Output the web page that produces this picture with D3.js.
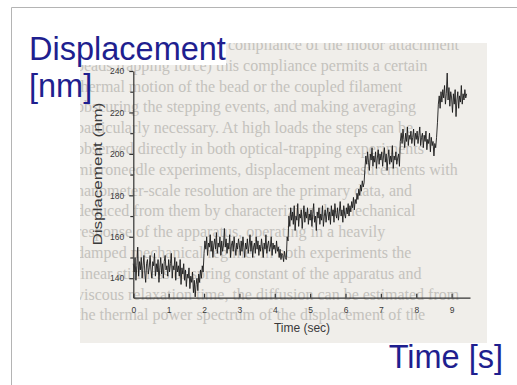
<!DOCTYPE html>
<html lang="en">
<head>
  <meta charset="UTF-8">
  <title>Displacement vs Time</title>
  <style>
    body {
      margin: 0;
      background: #fff;
    }
    .frame {
      stroke: #b4b4b4;
      stroke-width: 1px;
    }
    .page-text {
      font-family: "Liberation Serif", "DejaVu Serif", serif;
      font-size: 16px;
      fill: #c4c2bd;
    }
    .axis path, .axis line {
      stroke: #333;
      stroke-width: 1.2px;
    }
    .axis text {
      font-family: "Liberation Sans", Arial, sans-serif;
      font-size: 8.5px;
      fill: #3a3a3a;
    }
    .axis-title {
      font-family: "Liberation Sans", Arial, sans-serif;
      font-size: 12px;
      fill: #3a3a3a;
    }
    .trace {
      fill: none;
      stroke: #1a1a1a;
      stroke-width: 0.9px;
      stroke-linejoin: miter;
    }
    .slide-label {
      font-family: "Liberation Sans", Arial, sans-serif;
      font-size: 32.5px;
      fill: #1f1f8f;
    }
  </style>
</head>
<body>
  <svg width="517" height="385"></svg>

  <script src="https://d3js.org/d3.v7.min.js"></script>
  <script>
    // sample spacing of the recorded trace (sec)
    var dt = 0.025;

    // displacement readings (nm), one per dt starting at t = 0, 40 per second
    var displacement = [
      147, 143, 150, 139, 146, 155, 141, 148, 144, 150, 140, 146, 151, 143, 138, 147, 149, 142, 145, 151,
      144, 140, 148, 146, 152, 141, 147, 143, 149, 138, 145, 150, 142, 147, 140, 148, 151, 144, 146, 141,
      149, 143, 147, 152, 140, 146, 144, 150, 139, 148, 143, 146, 141, 149, 137, 145, 142, 147, 139, 144,
      136, 142, 140, 145, 135, 141, 138, 143, 133, 139, 131, 137, 140, 134, 142, 138, 144, 140, 146, 143,
      152, 158, 154, 160, 151, 157, 155, 161, 153, 158, 150, 156, 159, 154, 162, 152, 157, 155, 160, 151,
      158, 153, 156, 164, 155, 159, 152, 157, 154, 161, 150, 156, 158, 153, 160, 155, 151, 157, 154, 159,
      156, 151, 158, 153, 160, 155, 150, 157, 154, 159, 152, 156, 161, 153, 158, 150, 155, 157, 152, 160,
      154, 158, 151, 156, 153, 159, 155, 150, 157, 154, 161, 152, 156, 158, 153, 155, 160, 151, 157, 154,
      156, 152, 158, 153, 155, 150, 154, 149, 152, 151, 148, 153, 150, 149, 160, 158, 170, 165, 174, 168,
      172, 166, 175, 163, 170, 168, 176, 165, 171, 169, 173, 164, 170, 175, 167, 172, 169, 174, 166, 171,
      168, 173, 165, 171, 176, 167, 170, 163, 172, 169, 174, 166, 171, 168, 175, 165, 170, 173, 167, 171,
      174, 168, 172, 166, 175, 170, 173, 167, 176, 171, 169, 174, 168, 172, 177, 170, 173, 167, 175, 171,
      169, 174, 171, 176, 170, 175, 172, 177, 174, 179, 173, 178, 176, 181, 178, 183, 180, 185, 182, 187,
      184, 186, 193, 199, 195, 201, 196, 192, 200, 197, 203, 194, 199, 196, 201, 193, 198, 202, 195, 200,
      197, 201, 194, 199, 203, 196, 200, 192, 198, 202, 195, 199, 196, 204, 193, 199, 197, 201, 195, 198,
      200, 194, 206, 210, 205, 212, 207, 203, 210, 206, 213, 204, 209, 207, 211, 205, 208, 212, 204, 210,
      207, 211, 205, 209, 213, 204, 208, 210, 203, 209, 206, 211, 202, 207, 205, 210, 201, 208, 204, 206,
      199, 205, 203, 208, 215, 224, 228, 222, 230, 225, 231, 227, 233, 224, 229, 239, 226, 232, 223, 230,
      227, 220, 229, 224, 231, 218, 226, 230, 222, 228, 225, 233, 224, 229, 226, 231, 227, 229
    ];

    var xTicks = [0, 1, 2, 3, 4, 5, 6, 7, 8, 9];
    var yMajorTicks = [140, 160, 180, 200, 220, 240];
    var yMinorTicks = [150, 170, 190, 210, 230];

    // book page showing behind the scanned figure
    var pageLines = [
      "compliance of the motor attachment",
      "beads trapping force) this compliance permits a certain",
      "thermal motion of the bead or the coupled filament",
      "obscuring the stepping events, and making averaging",
      "particularly necessary. At high loads the steps can be",
      "observed directly in both optical-trapping experiments",
      "microneedle experiments, displacement measurements with",
      "nanometer-scale resolution are the primary data, and",
      "deduced from them by characterizing the mechanical",
      "response of the apparatus, operating in a heavily",
      "damped mechanical regime. In both experiments the",
      "linear stiffness or spring constant of the apparatus and",
      "viscous relaxation time, the diffusion can be estimated from",
      "the thermal power spectrum of the displacement of the"
    ];

    var svg = d3.select("svg");

    // slide frame
    svg.append("line").attr("class", "frame")
        .attr("x1", 11.5).attr("y1", 7.5).attr("x2", 11.5).attr("y2", 385);
    svg.append("line").attr("class", "frame")
        .attr("x1", 11.5).attr("y1", 7.5).attr("x2", 517).attr("y2", 7.5);

    // scanned image area
    var scan = {x: 80, y: 43, w: 407, h: 300};

    svg.append("clipPath").attr("id", "scan-clip")
      .append("rect")
        .attr("x", scan.x).attr("y", scan.y)
        .attr("width", scan.w).attr("height", scan.h);

    var scanG = svg.append("g").attr("clip-path", "url(#scan-clip)");

    scanG.append("rect")
        .attr("x", scan.x).attr("y", scan.y)
        .attr("width", scan.w).attr("height", scan.h)
        .attr("fill", "#f0eeea");

    scanG.append("g")
        .selectAll("text")
        .data(pageLines)
        .enter().append("text")
        .attr("class", "page-text")
        .attr("x", function(d, i) { return i === 0 ? 228 : 76; })
        .attr("y", function(d, i) { return 50 + i * 20.8; })
        .text(function(d) { return d; });

    // white box behind the first slide label
    svg.append("rect")
        .attr("x", scan.x).attr("y", scan.y)
        .attr("width", 146).attr("height", 22)
        .attr("fill", "#fff");

    var x = d3.scaleLinear().domain([0, 9.52]).range([133.3, 470]);
    var y = d3.scaleLinear().domain([130.6, 240]).range([297.7, 71]);

    var line = d3.line()
        .x(function(d, i) { return x(i * dt); })
        .y(function(d) { return y(d); });

    scanG.append("path")
        .datum(displacement)
        .attr("class", "trace")
        .attr("d", line);

    // x axis, ticks pointing up into the plot
    svg.append("g")
        .attr("class", "axis")
        .attr("transform", "translate(0," + y(130.6) + ")")
        .call(d3.axisBottom(x).tickValues(xTicks).tickSize(-4).tickSizeOuter(0).tickPadding(9)
          .tickFormat(d3.format("d")));

    // y axis with minor ticks
    svg.append("g")
        .attr("class", "axis")
        .attr("transform", "translate(" + x(0) + ",0)")
        .call(d3.axisLeft(y).tickValues(yMajorTicks).tickSize(4).tickSizeOuter(0).tickPadding(5));

    svg.append("g")
        .attr("class", "axis")
        .attr("transform", "translate(" + x(0) + ",0)")
        .call(d3.axisLeft(y).tickValues(yMinorTicks).tickSize(3).tickSizeOuter(0).tickFormat(""))
        .select(".domain").remove();

    svg.append("text")
        .attr("class", "axis-title")
        .attr("x", 302).attr("y", 332)
        .attr("text-anchor", "middle")
        .text("Time (sec)");

    svg.append("text")
        .attr("class", "axis-title")
        .attr("transform", "translate(102,174) rotate(-90)")
        .attr("text-anchor", "middle")
        .style("font-size", "13px")
        .attr("textLength", 143)
        .attr("lengthAdjust", "spacingAndGlyphs")
        .text("Displacement (nm)");

    // slide labels
    svg.append("text")
        .attr("class", "slide-label")
        .attr("x", 29).attr("y", 60)
        .text("Displacement");

    svg.append("text")
        .attr("class", "slide-label")
        .attr("x", 29).attr("y", 97)
        .text("[nm]");

    svg.append("text")
        .attr("class", "slide-label")
        .attr("x", 503).attr("y", 368)
        .attr("text-anchor", "end")
        .text("Time [s]");
  </script>
</body>
</html>
